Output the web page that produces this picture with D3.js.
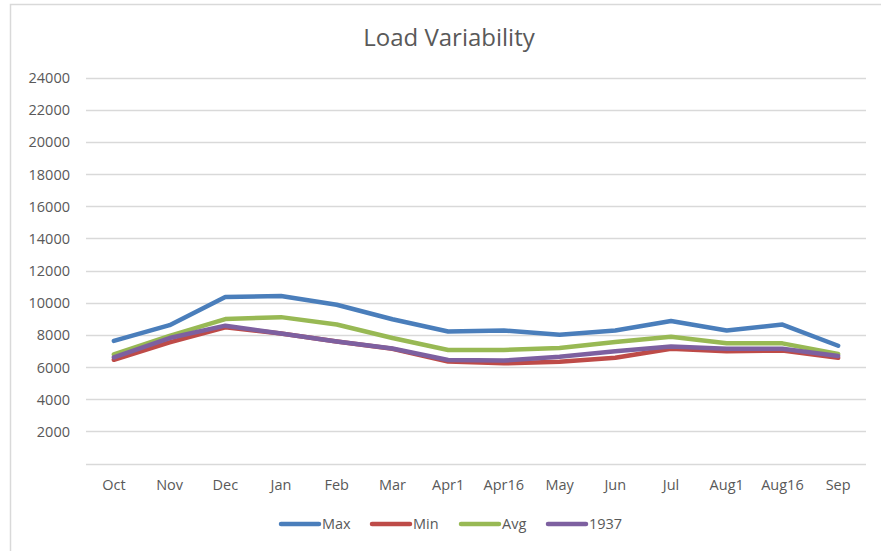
<!DOCTYPE html>
<html><head><meta charset="utf-8">
<script src="https://cdn.jsdelivr.net/npm/d3@7"></script>
<style>body{margin:0;background:#fff;}svg{display:block;}</style>
</head><body>
<svg id="chart" width="881" height="551"></svg>
<script>
const categories = ["Oct","Nov","Dec","Jan","Feb","Mar","Apr1","Apr16","May","Jun","Jul","Aug1","Aug16","Sep"];
const seriesNames = ["Max","Min","Avg","1937"];
const maxValues  = [7620, 8600, 10350, 10420, 9870, 8970, 8210, 8270, 8000, 8270, 8860, 8270, 8640, 7320];
const minValues  = [6450, 7530, 8470, 8080, 7580, 7130, 6340, 6230, 6320, 6570, 7130, 6980, 7030, 6570];
const avgValues  = [6780, 7940, 8980, 9100, 8640, 7800, 7060, 7060, 7180, 7560, 7880, 7470, 7470, 6810];
const y1937Values= [6600, 7800, 8570, 8080, 7580, 7150, 6440, 6400, 6640, 6980, 7270, 7130, 7130, 6690];
const yTicks = [2000,4000,6000,8000,10000,12000,14000,16000,18000,20000,22000,24000];
const gridValues = [0].concat(yTicks);
const colors = ["#4a7ebb","#be4b48","#98b954","#7d60a0"];

const series = [maxValues, minValues, avgValues, y1937Values];
const svg = d3.select("#chart");
const textColor = "#595959";
const font = "'Open Sans', sans-serif";

// frame
svg.append("path").attr("d","M10.5,551 V4.5 H881").attr("fill","none").attr("stroke","#d9d9d9").attr("stroke-width",1.5);

const x = d3.scaleBand().domain(categories).range([86, 866]);
const y = d3.scaleLinear().domain([0, 24000]).range([463.5, 77.5]);

// gridlines
svg.append("g").selectAll("line").data(gridValues).join("line")
  .attr("x1", 86).attr("x2", 866)
  .attr("y1", d => Math.round(y(d)) + 0.5).attr("y2", d => Math.round(y(d)) + 0.5)
  .attr("stroke", "#d9d9d9").attr("stroke-width", 1.5);

// y axis labels
const yAxis = d3.axisLeft(y).tickValues(yTicks).tickSize(0).tickPadding(0).tickFormat(d3.format("d"));
const gy = svg.append("g").attr("transform","translate(70,0)").call(yAxis);
gy.select(".domain").remove();
gy.selectAll("text").attr("fill", textColor).style("font-family", font).style("font-size","14.5px").attr("dy","0.35em");

// x axis labels
const xAxis = d3.axisBottom(x).tickSize(0).tickPadding(0);
const gx = svg.append("g").attr("transform","translate(0,480)").call(xAxis);
gx.select(".domain").remove();
gx.selectAll("text").attr("fill", textColor).style("font-family", font).style("font-size","14.5px");

// lines
const line = d3.line().x((d,i) => x(categories[i]) + x.bandwidth()/2).y(d => y(d));
svg.append("g").selectAll("path").data(series).join("path")
  .attr("d", d => line(d))
  .attr("fill","none")
  .attr("stroke", (d,i) => colors[i])
  .attr("stroke-width", 4.5)
  .attr("stroke-linejoin","round")
  .attr("stroke-linecap","round");

// title
svg.append("text").attr("x", 449).attr("y", 46).attr("text-anchor","middle")
  .attr("fill", textColor).style("font-family", font).style("font-size","24px").text("Load Variability");

// legend
const legendX = [281, 372, 461, 548];
const lg = svg.append("g").selectAll("g").data(seriesNames).join("g")
  .attr("transform", (d,i) => `translate(${legendX[i]},524)`);
lg.append("line").attr("x1",0).attr("x2",38).attr("y1",0).attr("y2",0)
  .attr("stroke",(d,i)=>colors[i]).attr("stroke-width",4.5).attr("stroke-linecap","round");
lg.append("text").attr("x",41).attr("y",0).attr("dy","0.35em")
  .attr("fill", textColor).style("font-family", font).style("font-size","14.5px").text(d=>d);
</script>
</body></html>
